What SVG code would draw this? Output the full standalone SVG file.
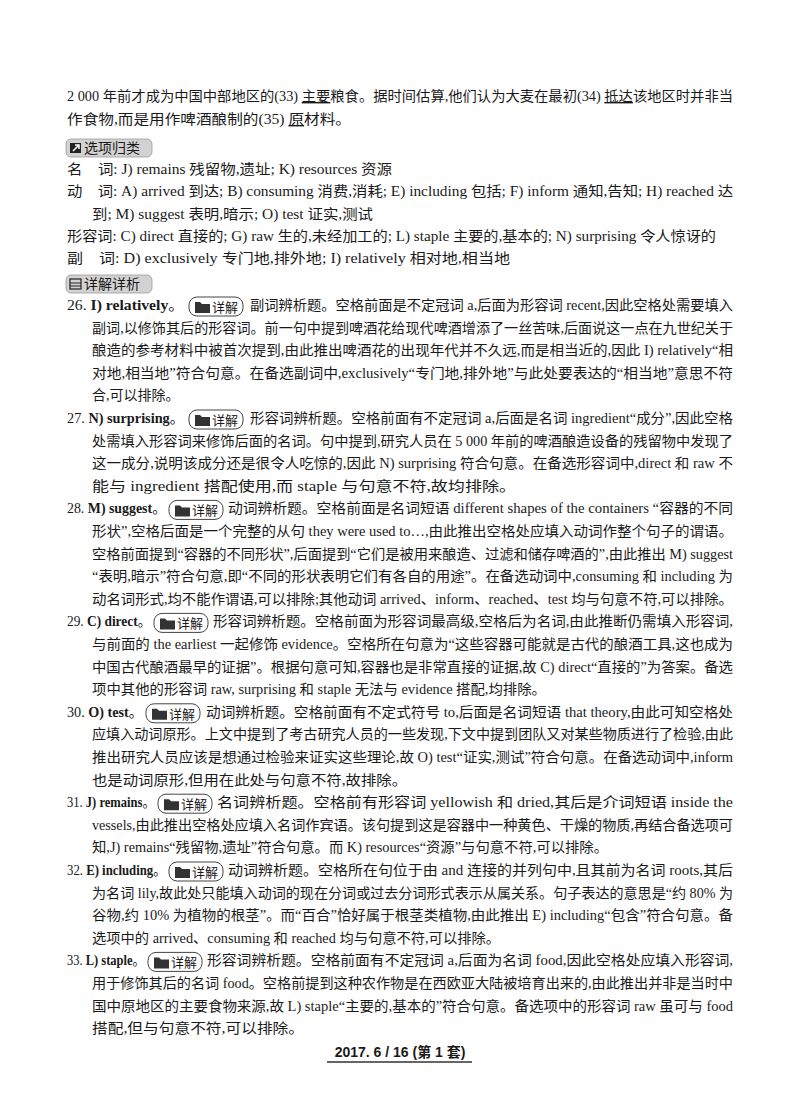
<svg xmlns="http://www.w3.org/2000/svg" width="800" height="1114" viewBox="0 0 800 1114">
<style>
text{font-family:"Liberation Serif","Noto Sans CJK SC",serif;font-size:14px;fill:#1a1a1a}
.h{font-family:"Noto Sans CJK SC","Liberation Sans",sans-serif;font-size:14px}
.b{font-weight:bold}
.u{text-decoration:underline}
.hb{fill:#d2d2d2;stroke:#999;stroke-width:0.8}
.bd{fill:#fff;stroke:#444;stroke-width:1}
.ft{font-family:"Liberation Sans","Noto Sans CJK SC",sans-serif;font-size:14px;font-weight:bold}
</style>
<rect width="800" height="1114" fill="#fff"/>
<defs>
<g id="badge"><rect class="bd" x="0" y="-13" width="54" height="19" rx="8"/><path d="M6,-8 h5 l2,2 h8 v9 h-15z" fill="#333"/><text class="h" x="23" y="2" style="font-size:13px">详解</text></g>
</defs>
<g id="intro">
<text x="67" y="101" textLength="666" lengthAdjust="spacingAndGlyphs">2 000 年前才成为中国中部地区的(33) <tspan class="u">主要</tspan>粮食。据时间估算,他们认为大麦在最初(34) <tspan class="u">抵达</tspan>该地区时并非当</text>
<text x="67" y="124" textLength="284" lengthAdjust="spacingAndGlyphs">作食物,而是用作啤酒酿制的(35) <tspan class="u">原</tspan>材料。</text>
</g>
<g id="sec1">
<rect class="hb" x="66" y="139" width="86" height="18" rx="5"/>
<rect x="70" y="143" width="11" height="10" fill="#222"/><path d="M73,151 l6,-6 M75,145 h4 v4" stroke="#fff" stroke-width="1.5" fill="none"/>
<text class="h" x="84" y="153">选项归类</text>
<text x="67" y="174" textLength="325" lengthAdjust="spacingAndGlyphs"><tspan class="h">名　词</tspan>: J) remains 残留物,遗址; K) resources 资源</text>
<text x="67" y="196" textLength="666" lengthAdjust="spacingAndGlyphs"><tspan class="h">动　词</tspan>: A) arrived 到达; B) consuming 消费,消耗; E) including 包括; F) inform 通知,告知; H) reached 达</text>
<text x="92" y="219" textLength="281" lengthAdjust="spacingAndGlyphs">到; M) suggest 表明,暗示; O) test 证实,测试</text>
<text x="67" y="241" textLength="649" lengthAdjust="spacingAndGlyphs"><tspan class="h">形容词</tspan>: C) direct 直接的; G) raw 生的,未经加工的; L) staple 主要的,基本的; N) surprising 令人惊讶的</text>
<text x="67" y="263" textLength="443" lengthAdjust="spacingAndGlyphs"><tspan class="h">副　词</tspan>: D) exclusively 专门地,排外地; I) relatively 相对地,相当地</text>
</g>
<g id="sec2">
<rect class="hb" x="66" y="275" width="86" height="18" rx="5"/>
<rect x="70" y="279" width="11" height="10" fill="none" stroke="#222" stroke-width="1.2"/><path d="M70,283 h11 M70,286 h11" stroke="#222"/>
<text class="h" x="84" y="289">详解详析</text>
</g>
<g id="q26">
<text x="67" y="310" textLength="117" lengthAdjust="spacingAndGlyphs">26. <tspan class="b">I) relatively</tspan>。</text>
<use href="#badge" x="189" y="310"/>
<text x="250" y="310" textLength="483" lengthAdjust="spacingAndGlyphs">副词辨析题。空格前面是不定冠词 a,后面为形容词 recent,因此空格处需要填入</text>
<text x="92" y="332.6" textLength="641" lengthAdjust="spacingAndGlyphs">副词,以修饰其后的形容词。前一句中提到啤酒花给现代啤酒增添了一丝苦味,后面说这一点在九世纪关于</text>
<text x="92" y="355.2" textLength="641" lengthAdjust="spacingAndGlyphs">酿造的参考材料中被首次提到,由此推出啤酒花的出现年代并不久远,而是相当近的,因此 I) relatively“相</text>
<text x="92" y="377.8" textLength="641" lengthAdjust="spacingAndGlyphs">对地,相当地”符合句意。在备选副词中,exclusively“专门地,排外地”与此处要表达的“相当地”意思不符</text>
<text x="92" y="400.4">合,可以排除。</text>
</g>
<g id="q27">
<text x="67" y="423" textLength="117" lengthAdjust="spacingAndGlyphs">27. <tspan class="b">N) surprising</tspan>。</text>
<use href="#badge" x="189" y="423"/>
<text x="250" y="423" textLength="483" lengthAdjust="spacingAndGlyphs">形容词辨析题。空格前面有不定冠词 a,后面是名词 ingredient“成分”,因此空格</text>
<text x="92" y="445.6" textLength="641" lengthAdjust="spacingAndGlyphs">处需填入形容词来修饰后面的名词。句中提到,研究人员在 5 000 年前的啤酒酿造设备的残留物中发现了</text>
<text x="92" y="468.2" textLength="641" lengthAdjust="spacingAndGlyphs">这一成分,说明该成分还是很令人吃惊的,因此 N) surprising 符合句意。在备选形容词中,direct 和 raw 不</text>
<text x="92" y="490.8" textLength="424" lengthAdjust="spacingAndGlyphs">能与 ingredient 搭配使用,而 staple 与句意不符,故均排除。</text>
</g>
<g id="q28">
<text x="67" y="513.4" textLength="99" lengthAdjust="spacingAndGlyphs">28. <tspan class="b">M) suggest</tspan>。</text>
<use href="#badge" x="169" y="513.4"/>
<text x="228" y="513.4" textLength="505" lengthAdjust="spacingAndGlyphs">动词辨析题。空格前面是名词短语 different shapes of the containers “容器的不同</text>
<text x="92" y="536" textLength="641" lengthAdjust="spacingAndGlyphs">形状”,空格后面是一个完整的从句 they were used to…,由此推出空格处应填入动词作整个句子的谓语。</text>
<text x="92" y="558.6" textLength="641" lengthAdjust="spacingAndGlyphs">空格前面提到“容器的不同形状”,后面提到“它们是被用来酿造、过滤和储存啤酒的”,由此推出 M) suggest</text>
<text x="92" y="581.2" textLength="641" lengthAdjust="spacingAndGlyphs">“表明,暗示”符合句意,即“不同的形状表明它们有各自的用途”。在备选动词中,consuming 和 including 为</text>
<text x="92" y="603.8" textLength="641" lengthAdjust="spacingAndGlyphs">动名词形式,均不能作谓语,可以排除;其他动词 arrived、inform、reached、test 均与句意不符,可以排除。</text>
</g>
<g id="q29">
<text x="67" y="626.4" textLength="84" lengthAdjust="spacingAndGlyphs">29. <tspan class="b">C) direct</tspan>。</text>
<use href="#badge" x="154" y="626.4"/>
<text x="213" y="626.4" textLength="520" lengthAdjust="spacingAndGlyphs">形容词辨析题。空格前面为形容词最高级,空格后为名词,由此推断仍需填入形容词,</text>
<text x="92" y="649" textLength="641" lengthAdjust="spacingAndGlyphs">与前面的 the earliest 一起修饰 evidence。空格所在句意为“这些容器可能就是古代的酿酒工具,这也成为</text>
<text x="92" y="671.6" textLength="641" lengthAdjust="spacingAndGlyphs">中国古代酿酒最早的证据”。根据句意可知,容器也是非常直接的证据,故 C) direct“直接的”为答案。备选</text>
<text x="92" y="694.2" textLength="454" lengthAdjust="spacingAndGlyphs">项中其他的形容词 raw, surprising 和 staple 无法与 evidence 搭配,均排除。</text>
</g>
<g id="q30">
<text x="67" y="716.8" textLength="76" lengthAdjust="spacingAndGlyphs">30. <tspan class="b">O) test</tspan>。</text>
<use href="#badge" x="146" y="716.8"/>
<text x="206" y="716.8" textLength="527" lengthAdjust="spacingAndGlyphs">动词辨析题。空格前面有不定式符号 to,后面是名词短语 that theory,由此可知空格处</text>
<text x="92" y="739.4" textLength="641" lengthAdjust="spacingAndGlyphs">应填入动词原形。上文中提到了考古研究人员的一些发现,下文中提到团队又对某些物质进行了检验,由此</text>
<text x="92" y="762" textLength="641" lengthAdjust="spacingAndGlyphs">推出研究人员应该是想通过检验来证实这些理论,故 O) test“证实,测试”符合句意。在备选动词中,inform</text>
<text x="92" y="784.6" textLength="315" lengthAdjust="spacingAndGlyphs">也是动词原形,但用在此处与句意不符,故排除。</text>
</g>
<g id="q31">
<text x="67" y="807.2" textLength="88" lengthAdjust="spacingAndGlyphs">31. <tspan class="b">J) remains</tspan>。</text>
<use href="#badge" x="158" y="807.2"/>
<text x="217" y="807.2" textLength="516" lengthAdjust="spacingAndGlyphs">名词辨析题。空格前有形容词 yellowish 和 dried,其后是介词短语 inside the</text>
<text x="92" y="829.8" textLength="641" lengthAdjust="spacingAndGlyphs">vessels,由此推出空格处应填入名词作宾语。该句提到这是容器中一种黄色、干燥的物质,再结合备选项可</text>
<text x="92" y="852.4" textLength="516" lengthAdjust="spacingAndGlyphs">知,J) remains“残留物,遗址”符合句意。而 K) resources“资源”与句意不符,可以排除。</text>
</g>
<g id="q32">
<text x="67" y="875" textLength="99" lengthAdjust="spacingAndGlyphs">32. <tspan class="b">E) including</tspan>。</text>
<use href="#badge" x="169" y="875"/>
<text x="228" y="875" textLength="505" lengthAdjust="spacingAndGlyphs">动词辨析题。空格所在句位于由 and 连接的并列句中,且其前为名词 roots,其后</text>
<text x="92" y="897.6" textLength="641" lengthAdjust="spacingAndGlyphs">为名词 lily,故此处只能填入动词的现在分词或过去分词形式表示从属关系。句子表达的意思是“约 80% 为</text>
<text x="92" y="920.2" textLength="641" lengthAdjust="spacingAndGlyphs">谷物,约 10% 为植物的根茎”。而“百合”恰好属于根茎类植物,由此推出 E) including“包含”符合句意。备</text>
<text x="92" y="942.8" textLength="408" lengthAdjust="spacingAndGlyphs">选项中的 arrived、consuming 和 reached 均与句意不符,可以排除。</text>
</g>
<g id="q33">
<text x="67" y="965.4" textLength="78" lengthAdjust="spacingAndGlyphs">33. <tspan class="b">L) staple</tspan>。</text>
<use href="#badge" x="148" y="965.4"/>
<text x="207" y="965.4" textLength="526" lengthAdjust="spacingAndGlyphs">形容词辨析题。空格前面有不定冠词 a,后面为名词 food,因此空格处应填入形容词,</text>
<text x="92" y="988" textLength="641" lengthAdjust="spacingAndGlyphs">用于修饰其后的名词 food。空格前提到这种农作物是在西欧亚大陆被培育出来的,由此推出并非是当时中</text>
<text x="92" y="1010.6" textLength="641" lengthAdjust="spacingAndGlyphs">国中原地区的主要食物来源,故 L) staple“主要的,基本的”符合句意。备选项中的形容词 raw 虽可与 food</text>
<text x="92" y="1033.2" textLength="212" lengthAdjust="spacingAndGlyphs">搭配,但与句意不符,可以排除。</text>
</g>
<g id="footer">
<text class="ft" x="400" y="1057" text-anchor="middle">2017. 6 / 16 (第 1 套)</text>
<line x1="327" y1="1062" x2="472" y2="1062" stroke="#333" stroke-width="1.5"/>
</g>
</svg>
